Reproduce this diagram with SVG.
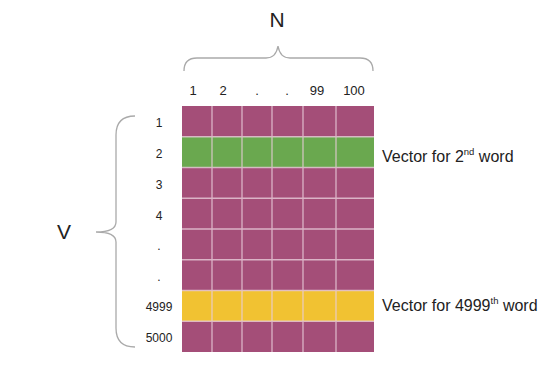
<svg xmlns="http://www.w3.org/2000/svg" width="554" height="374" viewBox="0 0 554 374">
<style>
.t{font-family:"Liberation Sans",Arial,sans-serif;fill:#222}
.big{font-size:21px}
.hdr{font-size:13px;text-anchor:middle}
.row{font-size:12px;text-anchor:middle}
.lbl{font-size:16px}
.sup{font-size:9.5px}
.m{fill:#a44e78}
.g{fill:#6aa84f}
.y{fill:#f1c232}
.grid{stroke:#e8cdd9;stroke-width:1.3;fill:none;opacity:0.8}
.brace{stroke:#aaa;stroke-width:1.3;fill:none}
</style>
<rect width="554" height="374" fill="#fff"/>
<g id="labels-top">
<text class="t big" x="277" y="27" text-anchor="middle">N</text>
<text class="t hdr" x="193" y="95">1</text>
<text class="t hdr" x="223" y="95">2</text>
<text class="t hdr" x="257" y="95">.</text>
<text class="t hdr" x="287" y="95">.</text>
<text class="t hdr" x="317" y="95">99</text>
<text class="t hdr" x="354" y="95">100</text>
</g>
<g id="brace-top">
<path class="brace" d="M184,71 Q184,58 197,58 L266,58 Q276,58 278,46 Q280,58 290,58 L360,58 Q373,58 373,71"/>
</g>
<g id="brace-left">
<path class="brace" d="M135,116 Q116,116 116,135 L116,222 Q116,232 96,232 Q116,232 116,242 L116,328 Q116,347 135,347"/>
<text class="t big" x="64" y="239" text-anchor="middle">V</text>
</g>
<g id="row-labels">
<text class="t row" x="159" y="127">1</text>
<text class="t row" x="159" y="158">2</text>
<text class="t row" x="159" y="189">3</text>
<text class="t row" x="159" y="220">4</text>
<text class="t row" x="159" y="250">.</text>
<text class="t row" x="159" y="281">.</text>
<text class="t row" x="159" y="311">4999</text>
<text class="t row" x="159" y="342">5000</text>
</g>
<g id="matrix">
<rect class="m" x="182" y="106" width="192" height="246"/>
<rect class="g" x="182" y="136.75" width="192" height="30.75"/>
<rect class="y" x="182" y="290.5" width="192" height="30.75"/>
<path class="grid" d="M212,106V352M242,106V352M272,106V352M303,106V352M336,106V352M182,136.75H374M182,167.5H374M182,198.25H374M182,229H374M182,259.75H374M182,290.5H374M182,321.25H374"/>
</g>
<g id="vector-2">
<text class="t lbl" x="382" y="161.5">Vector for 2<tspan class="sup" dy="-6.5">nd</tspan><tspan dy="6.5"> word</tspan></text>
</g>
<g id="vector-4999">
<text class="t lbl" x="382" y="310.5">Vector for 4999<tspan class="sup" dy="-6.5">th</tspan><tspan dy="6.5"> word</tspan></text>
</g>
</svg>
